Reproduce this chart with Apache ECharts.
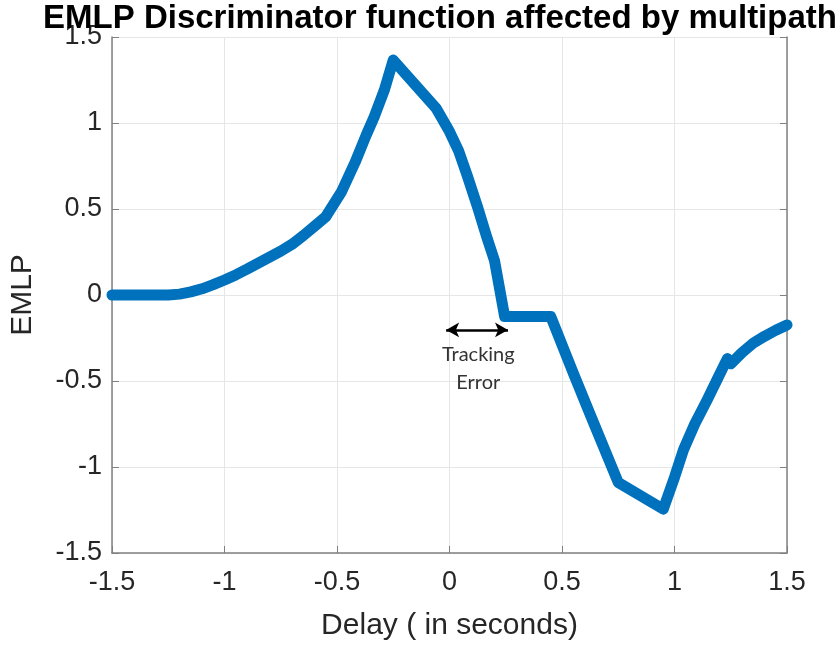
<!DOCTYPE html>
<html>
<head>
<meta charset="utf-8">
<script src="https://cdn.jsdelivr.net/npm/echarts@6/dist/echarts.min.js"></script>
<style>
html,body{margin:0;padding:0;background:#fff;}
#main{width:836px;height:648px;}
</style>
</head>
<body>
<div id="main"></div>
<script>
// 曲线数据 (读自图片)
var delay = [-1.5, -1.25, -1.2, -1.15, -1.1, -1.05, -1.0, -0.95, -0.9, -0.85, -0.8, -0.75, -0.7, -0.65, -0.6, -0.55,
	-0.48, -0.42, -0.37, -0.335, -0.29, -0.25, -0.06, 0.0, 0.04, 0.08, 0.125, 0.165, 0.2, 0.245,
	0.45, 0.55, 0.63, 0.75, 0.95, 1.0, 1.04, 1.09, 1.145, 1.19, 1.235, 1.25, 1.3, 1.35, 1.4, 1.45, 1.5];
var emlp = [0, 0, 0.005, 0.018, 0.036, 0.06, 0.087, 0.117, 0.15, 0.185, 0.22, 0.255, 0.295, 0.345, 0.4, 0.455,
	0.6, 0.77, 0.93, 1.035, 1.19, 1.366, 1.087, 0.95, 0.84, 0.69, 0.51, 0.34, 0.2, -0.125,
	-0.125, -0.453, -0.71, -1.09, -1.245, -1.06, -0.9, -0.75, -0.61, -0.49, -0.37, -0.4, -0.335, -0.28, -0.24, -0.205, -0.174];
var ticks = [-1.5, -1, -0.5, 0, 0.5, 1, 1.5];
var arrowSpan = [[-0.015, -0.203], [0.26, -0.203]];
var notePos = [0.128, -0.425];

var lineData = [];
for (var i = 0; i < delay.length; i++) {
	lineData.push([delay[i], emlp[i]]);
}
function fmt(v) { return ticks.indexOf(v) >= 0 ? String(v) : ''; }

var axisCol = '#808080';
var txtCol = '#262626';
var font = 'Liberation Sans, Arial, sans-serif';

var option = {
	animation: false,
	title: {
		text: 'EMLP Discriminator function affected by multipath',
		left: 435,
		textAlign: 'center',
		top: -3,
		textStyle: { fontFamily: font, fontSize: 33, fontWeight: 'bold', color: '#000' }
	},
	grid: { left: 110, right: 49, top: 37, bottom: 95 },
	xAxis: {
		type: 'value',
		min: -1.5, max: 1.5, interval: 0.5,
		name: 'Delay ( in seconds)',
		nameLocation: 'middle',
		nameGap: 58,
		nameTextStyle: { fontFamily: font, fontSize: 30, color: txtCol },
		axisLine: { onZero: false, lineStyle: { color: axisCol, width: 1.5 } },
		axisTick: { inside: true, length: 7, lineStyle: { color: axisCol } },
		axisLabel: { fontFamily: font, fontSize: 27, color: txtCol, margin: 16, formatter: fmt, showMinLabel: true, showMaxLabel: true },
		splitLine: { show: true, lineStyle: { color: '#e6e6e6', width: 1 } }
	},
	yAxis: [{
		type: 'value',
		min: -1.5, max: 1.5, interval: 0.5,
		name: 'EMLP',
		nameLocation: 'middle',
		nameGap: 74,
		nameTextStyle: { fontFamily: font, fontSize: 30, color: txtCol },
		axisLine: { show: true, onZero: false, lineStyle: { color: axisCol, width: 1.5 } },
		axisTick: { show: true, inside: true, length: 7, lineStyle: { color: axisCol } },
		axisLabel: { fontFamily: font, fontSize: 27, color: txtCol, margin: 10, formatter: fmt, showMinLabel: true, showMaxLabel: true },
		splitLine: { show: true, lineStyle: { color: '#e6e6e6', width: 1 } }
	}, {
		type: 'value',
		position: 'right',
		min: -1.5, max: 1.5, interval: 0.5,
		axisLine: { show: true, onZero: false, lineStyle: { color: axisCol, width: 1.5 } },
		axisTick: { show: true, inside: true, length: 7, lineStyle: { color: axisCol } },
		axisLabel: { show: false },
		splitLine: { show: false }
	}],
	series: [{
		type: 'line',
		data: lineData,
		showSymbol: false,
		symbol: 'none',
		lineStyle: { color: '#0072BD', width: 11, join: 'round', cap: 'round' },
		markLine: {
			silent: true,
			symbol: ['arrow', 'arrow'],
			symbolSize: [11, 13],
			label: { show: false },
			lineStyle: { color: '#000', width: 2.5, type: 'solid' },
			data: [[{ coord: arrowSpan[0] }, { coord: arrowSpan[1] }]]
		},
		markPoint: {
			silent: true,
			symbol: 'circle',
			symbolSize: 0,
			label: {
				show: true,
				position: 'inside',
				formatter: 'Tracking\nError',
				fontFamily: 'Lato, Open Sans, sans-serif',
				fontSize: 20,
				lineHeight: 28,
				color: '#333'
			},
			data: [{ coord: notePos }]
		}
	}]
};

var mCharts = echarts.init(document.getElementById('main'));
mCharts.setOption(option);
</script>
</body>
</html>
